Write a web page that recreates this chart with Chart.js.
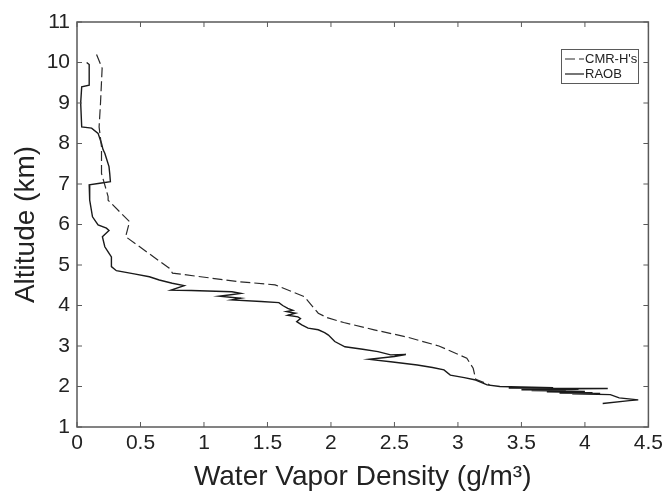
<!DOCTYPE html>
<html><head><meta charset="utf-8">
<script src="https://cdn.jsdelivr.net/npm/chart.js@4.4.1/dist/chart.umd.min.js"></script>
<style>html,body{margin:0;padding:0;background:#fff;}#wrap{width:667px;height:491px;}</style>
</head><body><div id="wrap"><canvas id="c" width="667" height="491"></canvas></div>
<script>
const xTicks = [0,0.5,1,1.5,2,2.5,3,3.5,4,4.5];
const xTickLabels = ['0','0.5','1','1.5','2','2.5','3','3.5','4','4.5'];
const yTicks = [1,2,3,4,5,6,7,8,9,10,11];
const yTickLabels = ['1','2','3','4','5','6','7','8','9','10','11'];
const seriesNames = ["CMR-H's","RAOB"];
const cmrX = [0.154,0.198,0.185,0.174,0.193,0.193,0.245,0.245,0.414,0.383,0.727,0.752,1.27,1.56,1.79,1.90,1.97,2.10,2.34,2.60,2.85,3.07,3.12,3.14,3.25];
const cmrY = [10.2,9.86,8.99,8.41,7.92,7.26,6.69,6.60,6.07,5.70,4.92,4.80,4.59,4.51,4.22,3.81,3.70,3.58,3.40,3.22,3.00,2.70,2.45,2.18,2.04];
const raobX = [0.076,0.096,0.096,0.037,0.029,0.037,0.115,0.166,0.193,0.205,0.219,0.235,0.252,0.258,0.263,0.18,0.096,0.10,0.122,0.166,0.232,0.252,0.20,0.219,0.25,0.271,0.271,0.31,0.45,0.57,0.648,0.75,0.844,0.74,0.9,1.22,1.29,1.12,1.29,1.22,1.45,1.59,1.62,1.66,1.70,1.65,1.72,1.66,1.74,1.76,1.73,1.77,1.82,1.90,1.95,1.98,2.03,2.11,2.25,2.37,2.47,2.59,2.50,2.30,2.47,2.68,2.80,2.89,2.94,3.05,3.14,3.23,3.33,3.75,3.40,4.18,3.60,3.95,3.50,3.85,3.58,4.00,3.70,4.06,3.80,4.12,3.90,4.20,4.27,4.42,4.35,4.14];
const raobY = [10.0,9.95,9.44,9.40,9.0,8.41,8.38,8.25,8.0,7.85,7.76,7.6,7.43,7.25,7.06,7.02,6.98,6.6,6.19,5.99,5.91,5.85,5.70,5.45,5.3,5.20,4.96,4.86,4.78,4.71,4.63,4.55,4.49,4.38,4.37,4.34,4.30,4.23,4.18,4.14,4.10,4.07,4.0,3.93,3.88,3.85,3.81,3.76,3.72,3.68,3.6,3.52,3.44,3.40,3.33,3.27,3.11,2.98,2.92,2.86,2.78,2.79,2.74,2.67,2.61,2.53,2.47,2.41,2.28,2.22,2.16,2.04,2.0,1.97,1.96,1.95,1.94,1.93,1.92,1.91,1.90,1.88,1.87,1.85,1.84,1.83,1.82,1.80,1.72,1.67,1.65,1.58];

const pts = (xs, ys) => xs.map((x, i) => ({x: x, y: ys[i]}));
const FONT = "'Liberation Sans', Arial, sans-serif";
const AXIS = '#5a5a5a';

const boxPlugin = {
  id: 'box',
  afterDatasetsDraw(chart) {
    const {ctx, chartArea: a, scales} = chart;
    ctx.save();
    ctx.strokeStyle = AXIS; ctx.lineWidth = 1.5;
    ctx.strokeRect(a.left, a.top, a.right - a.left, a.bottom - a.top);
    ctx.lineWidth = 1;
    const L = 5;
    xTicks.forEach(v => {
      const px = scales.x.getPixelForValue(v);
      ctx.beginPath(); ctx.moveTo(px, a.bottom); ctx.lineTo(px, a.bottom - L);
      ctx.moveTo(px, a.top); ctx.lineTo(px, a.top + L); ctx.stroke();
    });
    yTicks.forEach(v => {
      const py = scales.y.getPixelForValue(v);
      ctx.beginPath(); ctx.moveTo(a.left, py); ctx.lineTo(a.left + L, py);
      ctx.moveTo(a.right, py); ctx.lineTo(a.right - L, py); ctx.stroke();
    });
    // legend
    const lx = 561, ly = 49, lw = 77, lh = 34;
    ctx.fillStyle = '#fff'; ctx.fillRect(lx, ly, lw, lh);
    ctx.strokeStyle = AXIS; ctx.strokeRect(lx + 0.5, ly + 0.5, lw, lh);
    ctx.font = '13px ' + FONT; ctx.fillStyle = '#222'; ctx.textBaseline = 'middle';
    chart.data.datasets.forEach((ds, i) => {
      const y = ly + 10 + i * 15;
      ctx.strokeStyle = ds.borderColor; ctx.lineWidth = 1.2;
      ctx.setLineDash(ds.borderDash || []);
      ctx.beginPath(); ctx.moveTo(lx + 4, y); ctx.lineTo(lx + 23, y); ctx.stroke();
      ctx.setLineDash([]);
      ctx.fillText(ds.label, lx + 24, y);
    });
    ctx.restore();
  }
};

new Chart(document.getElementById('c'), {
  type: 'scatter',
  data: {
    datasets: [
      {label: seriesNames[0], data: pts(cmrX, cmrY), showLine: true, borderColor: '#2a2a2a', borderWidth: 1.2, borderDash: [10, 4], pointRadius: 0, tension: 0},
      {label: seriesNames[1], data: pts(raobX, raobY), showLine: true, borderColor: '#1a1a1a', borderWidth: 1.4, pointRadius: 0, tension: 0}
    ]
  },
  options: {
    responsive: false, animation: false,
    layout: {padding: {top: 22, right: 14, left: 12, bottom: 0}},
    plugins: {legend: {display: false}, tooltip: {enabled: false}},
    scales: {
      x: {
        type: 'linear', min: 0, max: 4.5,
        afterBuildTicks: s => { s.ticks = xTicks.map(v => ({value: v})); },
        afterFit: s => { s.height = 64; },
        grid: {display: false, drawTicks: false}, border: {display: false},
        ticks: {color: '#222', font: {size: 21, family: FONT}, padding: 4, maxRotation: 0,
          callback: (v, i) => xTickLabels[i]},
        title: {display: true, text: 'Water Vapor Density (g/m³)', color: '#222', font: {size: 28, family: FONT, lineHeight: 1.0}, padding: {top: 2, bottom: 0}}
      },
      y: {
        type: 'linear', min: 1, max: 11,
        afterBuildTicks: s => { s.ticks = yTicks.map(v => ({value: v})); },
        afterFit: s => { s.width = 65; },
        grid: {display: false, drawTicks: false}, border: {display: false},
        ticks: {color: '#222', font: {size: 21, family: FONT}, padding: 7,
          callback: (v, i) => yTickLabels[i]},
        title: {display: true, text: 'Altitude (km)', color: '#222', font: {size: 28, family: FONT, lineHeight: 1.0}, padding: {top: 0, bottom: 4}}
      }
    }
  },
  plugins: [boxPlugin]
});
</script></body></html>
